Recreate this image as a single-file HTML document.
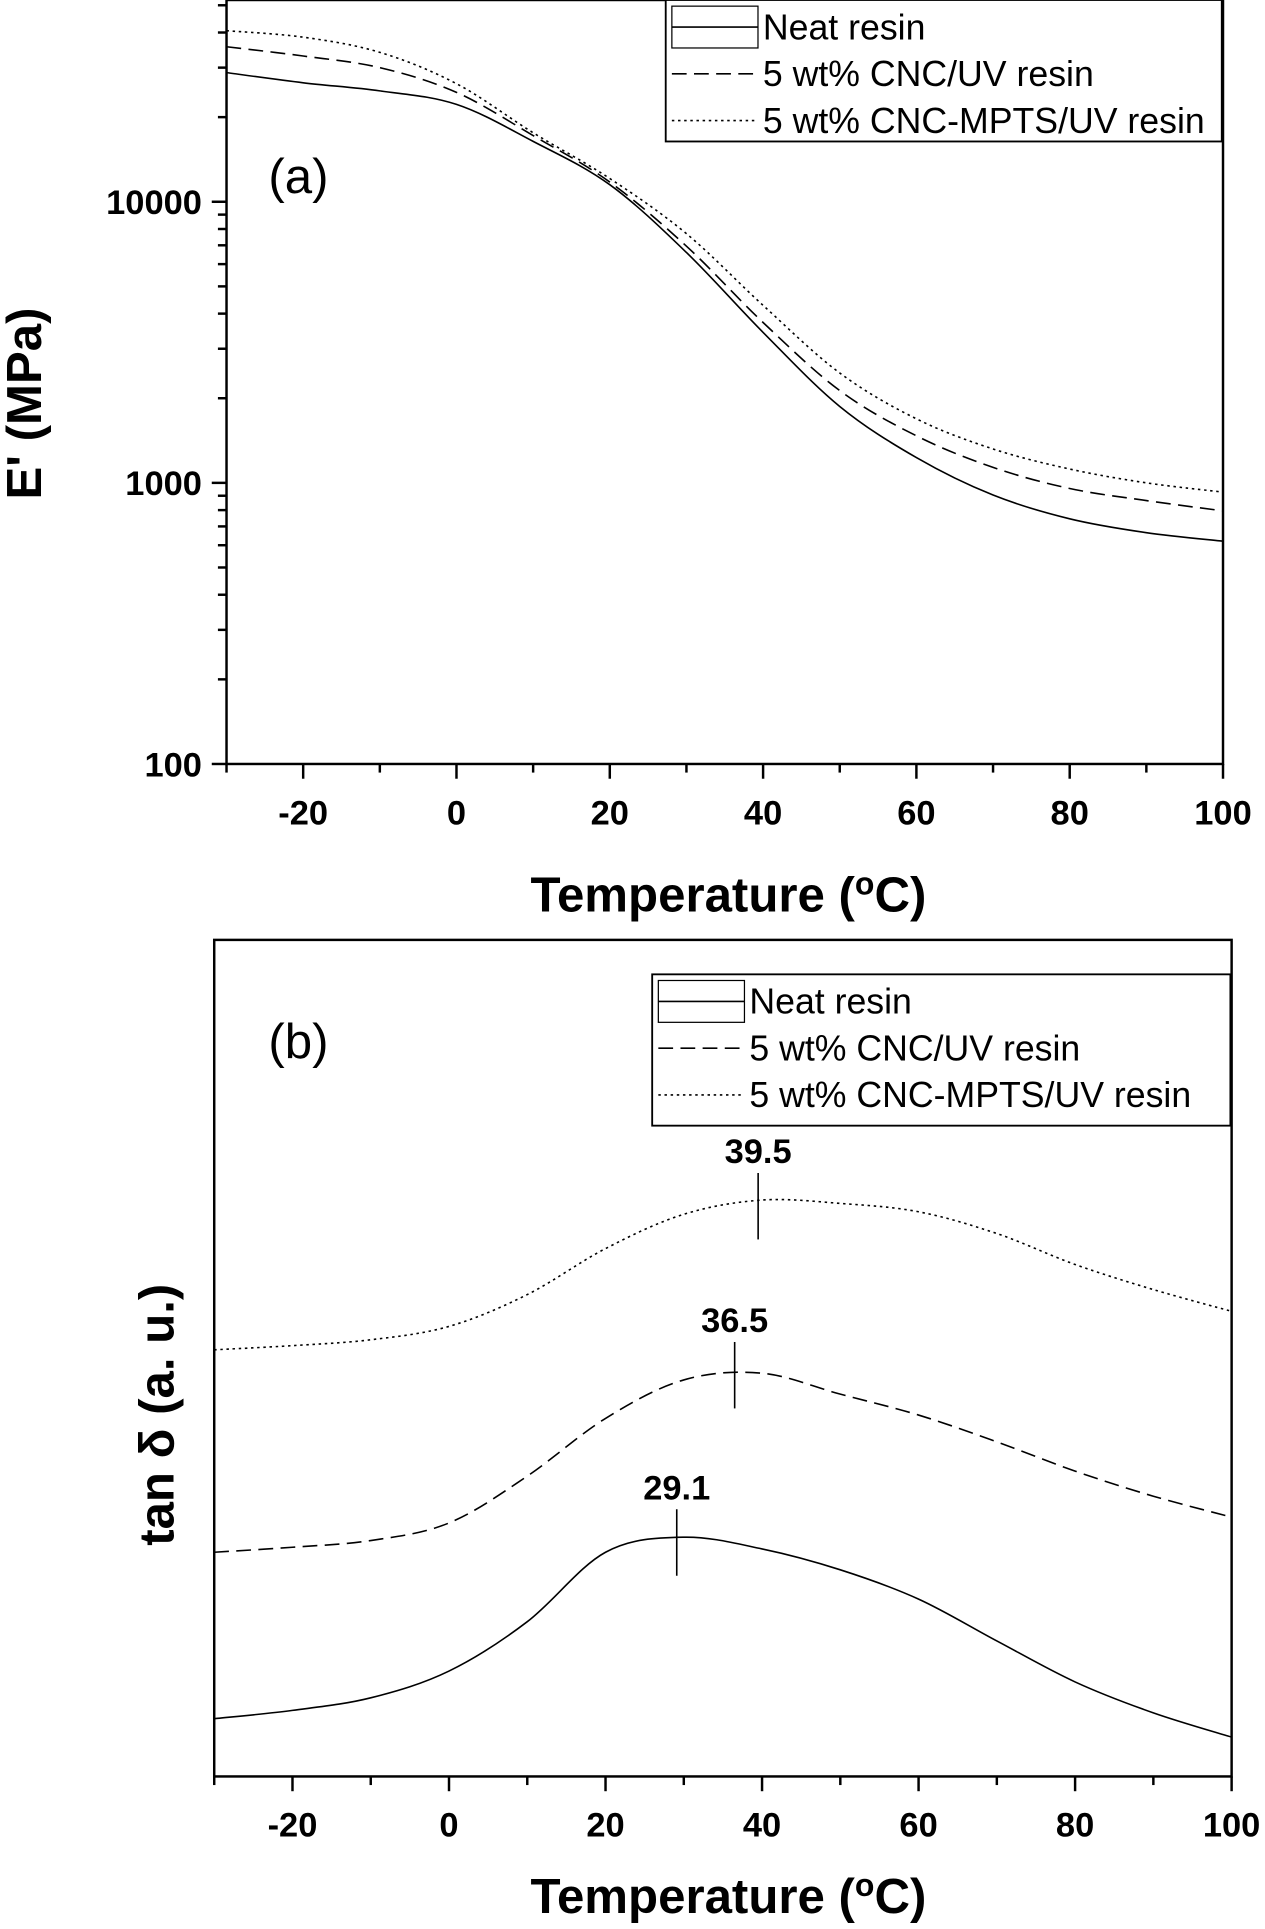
<!DOCTYPE html>
<html><head><meta charset="utf-8"><style>
html,body{margin:0;padding:0;background:#fff;}
svg{display:block;font-family:"Liberation Sans",Arial,sans-serif;}
.tick{font-weight:bold;font-size:28px;}
.ttl{font-weight:bold;font-size:40px;}
.leg{font-size:29px;}
</style></head><body>
<svg id="chart" width="1265" height="1929" viewBox="0 0 1028 1568"></svg>
<script>
// Panel (a) storage modulus data
const tempsA = [-30,-20,-10,0,10,20,30,40,50,60,70,80,90,100];
const neatE = [28800,26500,24800,22200,16400,11500,6600,3430,1870,1230,905,745,665,620];
const cncE = [35600,33000,30000,24500,17200,11750,6950,3720,2130,1470,1135,955,865,795];
const mptsE = [40600,38500,34000,26300,17600,12100,7700,4280,2460,1690,1320,1120,1000,927];
const yTicksA = [100,1000,10000];
const xTicks = [-20,0,20,40,60,80,100];
// Panel (b) tan delta data (arbitrary units)
const tempsB = [-30,-20,-10,0,10,20,30,40,50,60,70,80,90,100];
const neatTan = [6.9,7.9,9.4,12.6,18.5,26.8,28.6,27.2,24.7,21.2,16.2,11.3,7.6,4.7];
const cncTan = [26.8,27.4,28.2,30.3,35.9,42.8,47.4,48.2,45.7,43.2,40.0,36.5,33.5,31.0];
const mptsTan = [51.0,51.5,52.2,53.8,57.6,63.1,67.2,68.9,68.5,67.5,64.9,61.2,58.2,55.6];
const peakT = [29.1,36.5,39.5];
const peakV = [28.7,48.7,68.9];
const legendLabels = ["Neat resin","5 wt% CNC/UV resin","5 wt% CNC-MPTS/UV resin"];

const NS="http://www.w3.org/2000/svg";
const svg=document.getElementById('chart');
function mk(tag,attrs,parent,text){const e=document.createElementNS(NS,tag);for(const k in attrs)e.setAttribute(k,attrs[k]);if(text!==undefined)e.textContent=text;(parent||svg).appendChild(e);return e;}
function smooth(pts){let d=`M${pts[0][0]},${pts[0][1]}`;for(let i=0;i<pts.length-1;i++){const p0=pts[i-1]||pts[i],p1=pts[i],p2=pts[i+1],p3=pts[i+2]||p2;const c1=[p1[0]+(p2[0]-p0[0])/6,p1[1]+(p2[1]-p0[1])/6],c2=[p2[0]-(p3[0]-p1[0])/6,p2[1]-(p3[1]-p1[1])/6];d+=`C${c1[0]},${c1[1]} ${c2[0]},${c2[1]} ${p2[0]},${p2[1]}`;}return d;}
const styles=[{},{"stroke-dasharray":"12,6"},{"stroke-dasharray":"2,3"}];

function panel(cfg){
  const g=mk('g',{}),xs=t=>cfg.L+(t+30)/130*(cfg.R-cfg.L);
  
  const ax=mk('rect',{x:cfg.L,y:cfg.T,width:cfg.R-cfg.L,height:cfg.B-cfg.T,fill:'none',stroke:'#000','stroke-width':2},g);
  
  for(let t=-30;t<=100;t+=10){const maj=t%20===0;mk('line',{x1:xs(t),x2:xs(t),y1:cfg.B,y2:cfg.B+(maj?12:7),stroke:'#000','stroke-width':2},g);}
  xTicks.forEach(t=>{const e=mk('text',{x:xs(t),y:cfg.B+49,'text-anchor':'middle',class:'tick'},g,t);});
  const xt=mk('text',{x:592,y:cfg.xTitleY,'text-anchor':'middle',class:'ttl'},g);
  xt.innerHTML='Temperature (<tspan dy="-14" font-size="26">o</tspan><tspan dy="14">C)</tspan>';
  
  cfg.series.forEach((s,i)=>{const p=mk('path',Object.assign({d:smooth(cfg.xs.map((t,j)=>[xs(t),cfg.ys(s[j])])),fill:'none',stroke:'#000','stroke-width':1.3},styles[i]),g);});
  const lg=mk('g',{},g);
  mk('rect',{x:cfg.lx,y:cfg.ly,width:cfg.lw,height:cfg.lh,fill:'#fff',stroke:'#000','stroke-width':1.5},lg);
  legendLabels.forEach((l,i)=>{const yy=cfg.ly+22+i*38;
    if(i===0)mk('rect',{x:cfg.lx+5,y:yy-17,width:70,height:34,fill:'none',stroke:'#000','stroke-width':1},lg);
    mk('line',Object.assign({x1:cfg.lx+5,x2:cfg.lx+75,y1:yy,y2:yy,stroke:'#000','stroke-width':1.3},styles[i]),lg);
    const e=mk('text',{x:cfg.lx+79,y:yy+10,class:'leg'},lg,l);});
  const pl=mk('text',{x:cfg.plx,y:cfg.ply,'font-size':40},g,cfg.label);
  return {g,xs};
}

// Panel a
const La=184,Ra=994,Ba=621,dec=228.5;
const ysA=v=>Ba-(Math.log10(v)-2)*dec;
const A=panel({name:'panel-a',L:La,R:Ra,T:0,B:Ba,xs:tempsA,ys:ysA,series:[neatE,cncE,mptsE],xTitleY:741,lx:541,ly:0,lw:452,lh:115,plx:218,ply:157,label:'(a)'});
for(let d=2;d<4.72;d+=1){for(let m=1;m<10;m++){const v=Math.pow(10,d)*m;if(Math.log10(v)>4.72)break;const y=ysA(v);mk('line',{x1:La,x2:La-(m===1?12:7),y1:y,y2:y,stroke:'#000','stroke-width':2},A.g);}}
yTicksA.forEach(v=>{const e=mk('text',{x:La-20,y:ysA(v)+10,'text-anchor':'end',class:'tick'},A.g,v);});
const yta=mk('text',{x:0,y:0,class:'ttl','font-size':44,transform:'translate(33,328) rotate(-90)','text-anchor':'middle'},A.g,"E' (MPa)");


// Panel b
const Lb=174,Rb=1001,Tb=764,Bb=1444;
const ysB=v=>Bb-v*6.8;
const B=panel({name:'panel-b',L:Lb,R:Rb,T:Tb,B:Bb,xs:tempsB,ys:ysB,series:[neatTan,cncTan,mptsTan],xTitleY:1555,lx:530,ly:792,lw:470,lh:123,plx:218,ply:860,label:'(b)'});
const ytb=mk('text',{x:0,y:0,class:'ttl','font-size':44,transform:'translate(141,1150) rotate(-90)','text-anchor':'middle'},B.g,'tan δ (a. u.)');

peakT.forEach((t,i)=>{const x=B.xs(t),y=ysB(peakV[i]);
  const l=mk('line',{x1:x,x2:x,y1:y-22,y2:y+32,stroke:'#000','stroke-width':1.3},B.g);
  const e=mk('text',{x:x,y:y-30,'text-anchor':'middle',class:'tick','font-size':30},B.g,t.toFixed(1));});
</script>
</body></html>
